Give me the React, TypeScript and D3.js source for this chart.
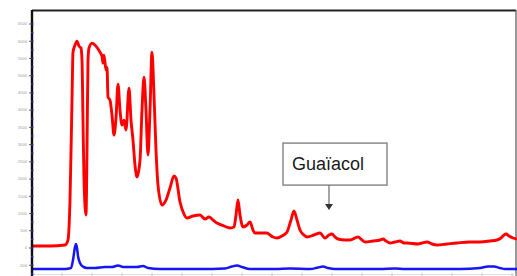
import * as d3 from "d3"

// chromatogram traces: scan number vs detector response
const redScan = [0, 18, 33, 36, 38, 40, 41, 43, 45, 47, 49, 50, 51, 52, 54, 55, 56, 57, 60, 64, 68, 70, 71, 72, 74, 75, 76, 78, 80, 82, 84, 86, 88, 90, 92, 94, 97, 99, 101, 103, 105, 108, 110, 112, 114, 116, 118, 120, 122, 124, 126, 130, 134, 138, 142, 144, 148, 152, 155, 161, 168, 173, 177, 181, 185, 192, 198, 202, 204, 206, 208, 211, 215, 218, 221, 223, 230, 235, 238, 241, 245, 250, 255, 259, 262, 265, 268, 272, 275, 282, 288, 293, 297, 300, 303, 306, 313, 318, 326, 330, 333, 341, 348, 351, 354, 358, 363, 368, 372, 375, 386, 390, 395, 400, 405, 415, 425, 438, 448, 458, 465, 469, 472, 474, 477, 481, 485]
const redValue = [58, 58, 87, 232, 1392, 4292, 5684, 5887, 6003, 5858, 5800, 5452, 3712, 1972, 957, 2842, 5452, 5800, 5945, 5858, 5684, 5568, 5365, 5597, 5162, 5249, 4379, 4292, 3857, 3277, 3770, 4756, 4002, 3567, 3712, 3422, 4640, 3712, 3132, 2407, 2059, 2552, 4002, 4959, 4002, 2697, 4002, 5684, 4437, 2842, 1827, 1247, 1392, 1740, 2088, 2030, 1334, 986, 870, 928, 957, 841, 899, 812, 725, 638, 580, 609, 957, 1392, 957, 609, 667, 754, 522, 435, 435, 435, 377, 319, 290, 348, 464, 812, 1073, 812, 522, 377, 319, 377, 435, 290, 377, 406, 319, 261, 232, 232, 319, 232, 174, 203, 232, 261, 203, 145, 174, 203, 145, 145, 116, 145, 174, 116, 87, 116, 145, 174, 174, 203, 232, 290, 377, 406, 348, 290, 261]

const blueScan = [0, 33, 39, 41, 43, 44, 45, 46, 48, 51, 55, 63, 73, 80, 86, 91, 98, 105, 111, 116, 128, 168, 193, 200, 205, 210, 218, 243, 258, 278, 286, 291, 296, 303, 348, 363, 373, 428, 448, 456, 462, 468, 473, 485]
const blueValue = [-610, -610, -581, -348, 29, 116, 0, -232, -435, -540, -580, -580, -551, -551, -507, -551, -551, -551, -522, -580, -610, -610, -595, -537, -507, -551, -610, -610, -595, -610, -566, -537, -580, -610, -610, -595, -610, -610, -580, -537, -537, -580, -610, -610]

const yTicks = [-500, 0, 500, 1000, 1500, 2000, 2500, 3000, 3500, 4000, 4500, 5000, 5500, 6000, 6500]

const annotationLabel = "Guaïacol"
const annotationScan = 297
const annotationValue = 1100

const W = 517
const H = 276

export default function App() {
  const x = d3.scaleLinear().domain([0, 485]).range([32, 517])
  const y = d3.scaleLinear().domain([0, 6500]).range([248, 24])

  const red = d3.zip(redScan, redValue)
  const blue = d3.zip(blueScan, blueValue)
  const line = d3
    .line<number[]>()
    .x((d) => x(d[0]))
    .y((d) => y(d[1]))
    .curve(d3.curveMonotoneX)

  const minor = d3.range(-750, 6750, 250)

  const ax = x(annotationScan)
  const ay = y(annotationValue)
  const boxW = 104
  const boxH = 42
  const boxX = ax - 46
  const boxY = ay - 67

  return (
    <svg
      width={W}
      height={H}
      style={{ position: "absolute", left: 0, top: 0, background: "#fff" }}
      fontFamily="'Liberation Sans', Arial, sans-serif"
    >
      {/* frame */}
      <line x1={32} x2={516} y1={10.5} y2={10.5} stroke="#222" strokeWidth={2} />
      <line x1={516} x2={516} y1={10} y2={276} stroke="#555" strokeWidth={1.2} />
      <line x1={32} x2={516} y1={274.5} y2={274.5} stroke="#ddd" strokeWidth={1} />
      {d3.range(0, 485, 30).map((s) => (
        <line key={s} x1={x(s)} x2={x(s)} y1={273} y2={276} stroke="#ccc" strokeWidth={1} />
      ))}

      {/* traces */}
      <path d={line(blue) ?? ""} fill="none" stroke="#1515f5" strokeWidth={2.5} strokeLinejoin="round" />
      <path d={line(red) ?? ""} fill="none" stroke="#ff0000" strokeWidth={2.9} strokeLinejoin="round" />

      {/* y axis */}
      <line x1={32} x2={32} y1={10} y2={276} stroke="#111" strokeWidth={2.4} />
      {minor.map((v) => (
        <line key={v} x1={31} x2={33.5} y1={y(v)} y2={y(v)} stroke="#2233cc" strokeWidth={1.2} />
      ))}
      {yTicks.map((v) => (
        <g key={v}>
          <line x1={29} x2={32} y1={y(v)} y2={y(v)} stroke="#333" strokeWidth={0.8} />
          <text x={27} y={y(v) + 1.3} textAnchor="end" fontSize={4} fill="#999">
            {v}
          </text>
        </g>
      ))}

      {/* annotation */}
      <rect x={boxX} y={boxY} width={boxW} height={boxH} fill="#fff" stroke="#8a8a8a" strokeWidth={1.5} />
      <text x={boxX + 9} y={boxY + 27} fontSize={18} fill="#1a1a1a">
        {annotationLabel}
      </text>
      <line x1={ax} x2={ax} y1={boxY + boxH} y2={ay - 5} stroke="#777" strokeWidth={1.3} />
      <path d={`M${ax - 4},${ay - 6}L${ax + 4},${ay - 6}L${ax},${ay}Z`} fill="#333" />
    </svg>
  )
}
